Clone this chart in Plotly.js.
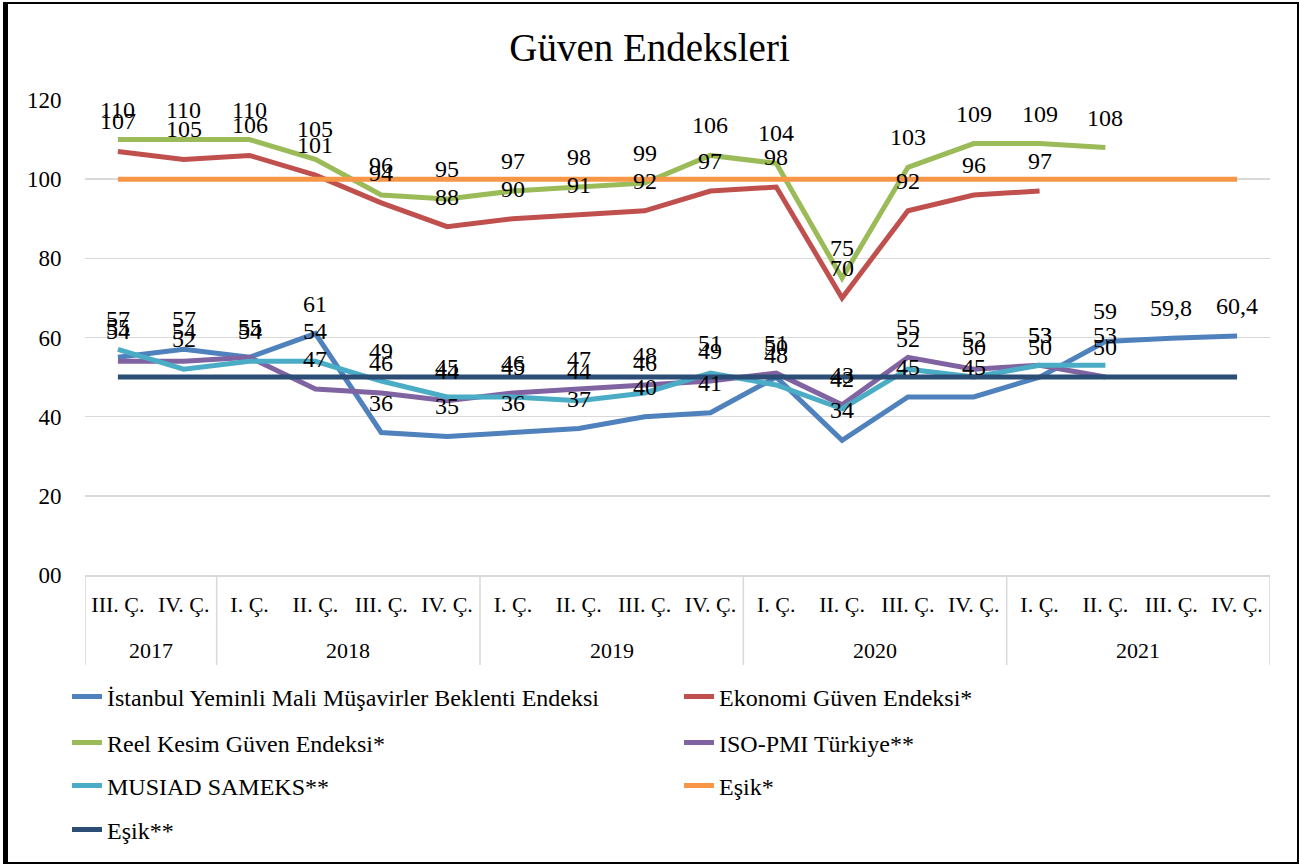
<!DOCTYPE html>
<html><head><meta charset="utf-8">
<script src="https://cdn.plot.ly/plotly-3.0.1.min.js"></script>
<style>
html,body{margin:0;padding:0;background:#fff;}
#chart{position:absolute;left:0;top:0;width:1299px;height:867px;}
#frame{position:absolute;left:3px;top:2px;width:1289px;height:858px;border-left:5px solid #000;border-top:2px solid #000;border-right:2px solid #000;border-bottom:2px solid #000;pointer-events:none;}
</style></head><body>
<div id="chart"></div><div id="frame"></div>
<script>
const years = ['2017','2017','2018','2018','2018','2018','2019','2019','2019','2019','2020','2020','2020','2020','2021','2021','2021','2021'];
const quarters = ['III. Ç.','IV. Ç.','I. Ç.','II. Ç.','III. Ç.','IV. Ç.','I. Ç.','II. Ç.','III. Ç.','IV. Ç.','I. Ç.','II. Ç.','III. Ç.','IV. Ç.','I. Ç.','II. Ç.','III. Ç.','IV. Ç.'];

const istanbulYMM = [55, 57, 55, 61, 36, 35, 36, 37, 40, 41, 50, 34, 45, 45, 50, 59, 59.8, 60.4];
const ekonomiGuven = [107, 105, 106, 101, 94, 88, 90, 91, 92, 97, 98, 70, 92, 96, 97, null, null, null];
const reelKesim = [110, 110, 110, 105, 96, 95, 97, 98, 99, 106, 104, 75, 103, 109, 109, 108, null, null];
const isoPMI = [54, 54, 55, 47, 46, 44, 46, 47, 48, 49, 51, 43, 55, 52, 53, 50, null, null];
const musiadSameks = [57, 52, 54, 54, 49, 45, 45, 44, 46, 51, 48, 42, 52, 50, 53, 53, null, null];
const esik1 = [100, 100, 100, 100, 100, 100, 100, 100, 100, 100, 100, 100, 100, 100, 100, 100, 100, 100];
const esik2 = [50, 50, 50, 50, 50, 50, 50, 50, 50, 50, 50, 50, 50, 50, 50, 50, 50, 50];

const yTickVals = [0, 20, 40, 60, 80, 100, 120];
const yTickText = ['00', '20', '40', '60', '80', '100', '120'];

const FONT = 'Liberation Serif, Times New Roman, serif';
const xIdx = quarters.map((_, i) => i);

const series = [
  {name: 'İstanbul Yeminli Mali Müşavirler Beklenti Endeksi', y: istanbulYMM, color: '#4F81BD', labels: true, legend: 'legend'},
  {name: 'Ekonomi Güven Endeksi*', y: ekonomiGuven, color: '#C0504D', labels: true, legend: 'legend2'},
  {name: 'Reel Kesim Güven Endeksi*', y: reelKesim, color: '#9BBB59', labels: true, legend: 'legend3'},
  {name: 'ISO-PMI Türkiye**', y: isoPMI, color: '#8064A2', labels: true, legend: 'legend4'},
  {name: 'MUSIAD SAMEKS**', y: musiadSameks, color: '#4BACC6', labels: true, legend: 'legend5'},
  {name: 'Eşik*', y: esik1, color: '#F79646', labels: false, legend: 'legend6'},
  {name: 'Eşik**', y: esik2, color: '#2C4D75', labels: false, legend: 'legend7'}
];

const traces = series.map(s => ({
  type: 'scatter', mode: 'lines', name: s.name,
  x: xIdx, y: s.y,
  line: {color: s.color, width: 5},
  connectgaps: false,
  legend: s.legend
}));

const annotations = [];
series.forEach(s => {
  if (!s.labels) return;
  s.y.forEach((v, i) => {
    if (v === null) return;
    annotations.push({
      x: i, y: v, xref: 'x', yref: 'y',
      text: String(v).replace('.', ','),
      showarrow: false, yanchor: 'middle', xanchor: 'center', yshift: 30,
      font: {family: FONT, size: 24, color: '#000'}
    });
  });
});

// year group labels and dividers, derived from the years array
const shapes = [];
const groupY0 = 0, groupY1 = (575 - 665) / 475;
let start = 0;
for (let i = 1; i <= years.length; i++) {
  if (i === years.length || years[i] !== years[start]) {
    annotations.push({
      x: (start + i - 1) / 2, y: (575 - 650) / 475, xref: 'x', yref: 'paper',
      text: years[start], showarrow: false, yanchor: 'middle', xanchor: 'center',
      font: {family: FONT, size: 22, color: '#000'}
    });
    shapes.push({type: 'line', xref: 'x', yref: 'paper', x0: start - 0.5, x1: start - 0.5, y0: groupY0, y1: groupY1,
                 line: {color: '#D9D9D9', width: 1.5}});
    start = i;
  }
}
shapes.push({type: 'line', xref: 'x', yref: 'paper', x0: years.length - 0.5, x1: years.length - 0.5, y0: groupY0, y1: groupY1,
             line: {color: '#D9D9D9', width: 1.5}});

function leg(xpx, ypx) {
  return {
    x: (xpx - 85) / 1185, y: (575 - ypx) / 475,
    xanchor: 'left', yanchor: 'middle', orientation: 'h',
    bgcolor: 'rgba(0,0,0,0)',
    font: {family: FONT, size: 24, color: '#000'}
  };
}

const layout = {
  width: 1299, height: 867,
  margin: {l: 85, r: 29, t: 100, b: 292, autoexpand: false},
  paper_bgcolor: '#fff', plot_bgcolor: '#fff',
  font: {family: FONT, color: '#000'},
  title: {text: 'Güven Endeksleri', x: 0.5, xref: 'container', y: 1 - 47 / 867, yref: 'container', yanchor: 'middle', xanchor: 'center',
          font: {family: FONT, size: 39, color: '#000'}},
  xaxis: {
    range: [-0.5, years.length - 0.5], tickvals: xIdx, ticktext: quarters,
    showgrid: false, zeroline: false, showline: true, linecolor: '#D9D9D9', linewidth: 1.5,
    tickfont: {family: FONT, size: 22, color: '#000'}, ticks: 'outside', ticklen: 9, tickcolor: 'rgba(0,0,0,0)'
  },
  yaxis: {
    range: [0, 120], tickvals: yTickVals, ticktext: yTickText,
    showgrid: true, gridcolor: '#D9D9D9', gridwidth: 1.5, zeroline: false, showline: false,
    tickfont: {family: FONT, size: 23, color: '#000'}, ticks: 'outside', ticklen: 18, tickcolor: 'rgba(0,0,0,0)'
  },
  showlegend: true,
  legend: leg(67, 697),
  legend2: leg(679, 697),
  legend3: leg(67, 743),
  legend4: leg(679, 743),
  legend5: leg(67, 786),
  legend6: leg(679, 786),
  legend7: leg(67, 830),
  annotations: annotations,
  shapes: shapes
};

Plotly.newPlot('chart', traces, layout, {displayModeBar: false, staticPlot: true});
</script>
</body></html>
